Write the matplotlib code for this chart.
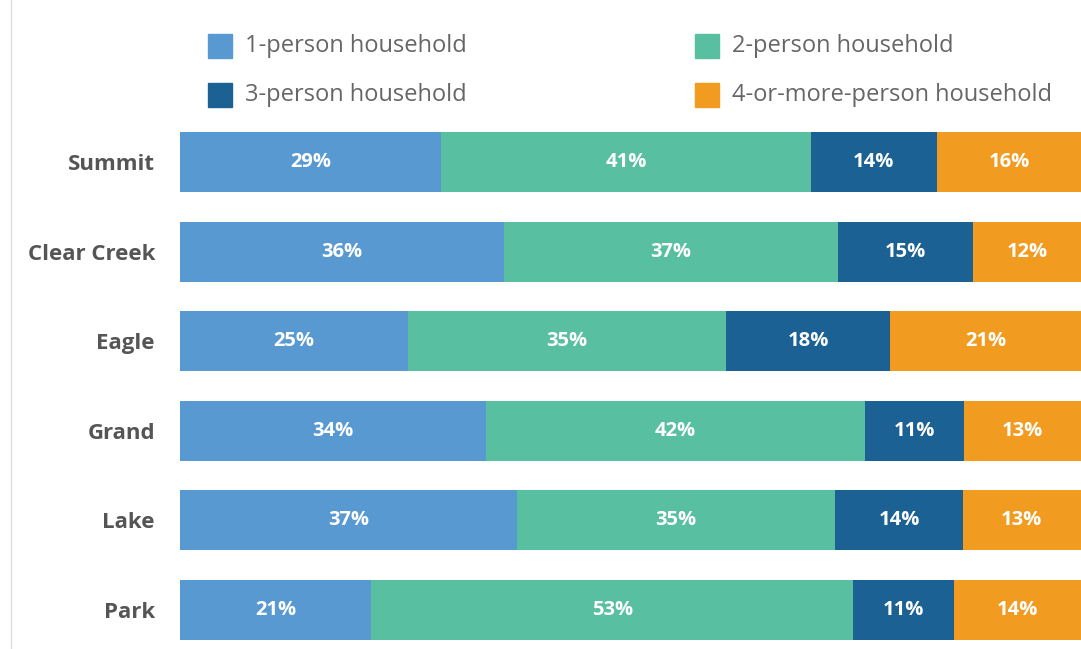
import numpy as np
import matplotlib.pyplot as plt
from matplotlib.patches import Rectangle
from matplotlib.lines import Line2D

plt.rcParams['font.family'] = ['Open Sans', 'DejaVu Sans']

counties = ['Summit', 'Clear Creek', 'Eagle', 'Grand', 'Lake', 'Park']
one_person = [29, 36, 25, 34, 37, 21]
two_person = [41, 37, 35, 42, 35, 53]
three_person = [14, 15, 18, 11, 14, 11]
four_plus = [16, 12, 21, 13, 13, 14]

series_names = ['1-person household', '2-person household',
                '3-person household', '4-or-more-person household']
colors = ['#5899d2', '#58bfa0', '#1b6193', '#f19c21']

W, H = 1081, 649
fig = plt.figure(figsize=(W / 100, H / 100), dpi=100)
ax = fig.add_axes([180 / W, 9 / H, 1 - 180 / W, 508 / H])

data = np.array([one_person, two_person, three_person, four_plus], dtype=float)
share = data / data.sum(axis=0) * 100  # bars fill the full width
y = np.arange(len(counties))
left = np.zeros(len(counties))
for i in range(4):
    ax.barh(y, share[i], left=left, height=0.67, color=colors[i], edgecolor='none')
    for j in range(len(counties)):
        ax.text(left[j] + share[i][j] / 2, y[j], f'{int(data[i][j])}%',
                ha='center', va='center', color='white',
                fontsize=14.5, fontweight='bold')
    left += share[i]

ax.set_xlim(0, 100)
ax.set_ylim(len(counties) - 1 + 0.335, -0.335)
ax.set_yticks(y)
ax.set_yticklabels(counties, fontsize=16, fontweight='bold', color='#555555')
ax.tick_params(axis='y', length=0, pad=18)
ax.set_xticks([])
for s in ax.spines.values():
    s.set_visible(False)

# legend drawn by hand, two columns
leg_pos = [(208, 34), (695, 34), (208, 83), (695, 83)]
for k, (px, py) in enumerate(leg_pos):
    fig.add_artist(Rectangle((px / W, 1 - (py + 24) / H), 24 / W, 24 / H,
                             transform=fig.transFigure, color=colors[k]))
    fig.text((px + 37) / W, 1 - (py + 12) / H, series_names[k],
             fontsize=17, color='#666666', va='center', ha='left')

fig.add_artist(Line2D([11 / W, 11 / W], [0, 1], transform=fig.transFigure,
                      color='#dddddd', lw=1))

fig.savefig('out.png', dpi=100)
